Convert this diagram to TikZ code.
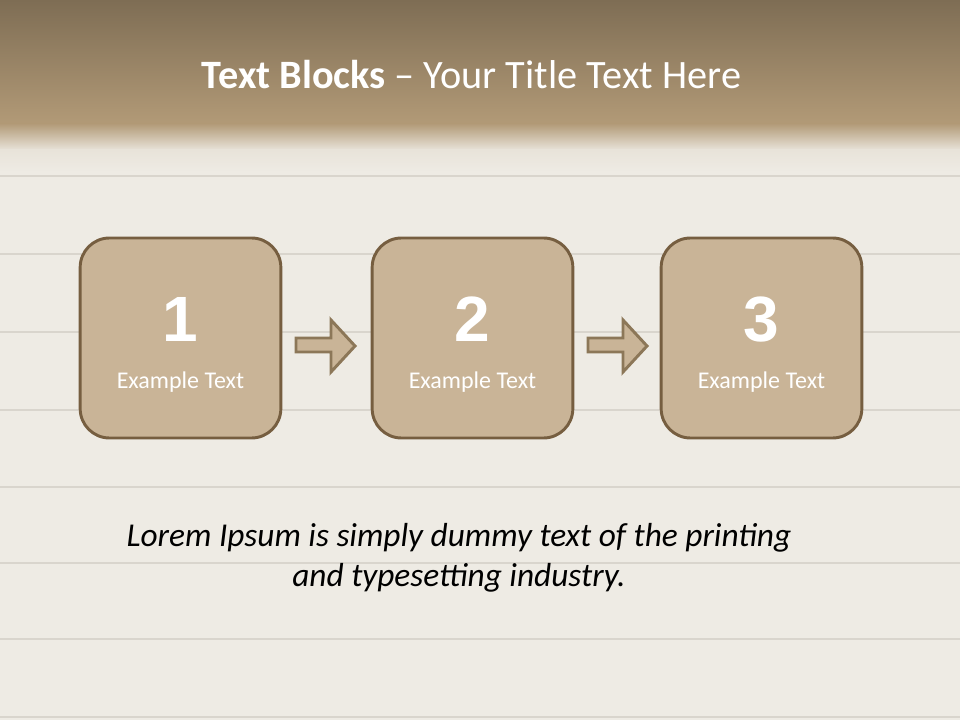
\documentclass[tikz,border=0pt]{standalone}
\usepackage{fontspec}
\setmainfont{Carlito}
\newfontfamily\numfont{Liberation Sans}
\definecolor{topdark}{HTML}{7E6D54}
\definecolor{topmid}{HTML}{B29A77}
\definecolor{wood}{HTML}{EEEBE4}
\definecolor{woodline}{HTML}{D9D5CD}
\definecolor{boxfill}{HTML}{C9B497}
\definecolor{boxedge}{HTML}{765E40}
\definecolor{arrowedge}{HTML}{8C7758}
\begin{document}
\begin{tikzpicture}[x=0.75pt,y=-0.75pt,
  stepbox/.style={draw=boxedge, line width=2.2pt, fill=boxfill, rounded corners=22pt,
    minimum width=150.5pt, minimum height=150pt, inner sep=0pt},
  numtext/.style={text=white, font=\numfont\bfseries\fontsize{48}{52}\selectfont},
  labtext/.style={text=white, font=\fontsize{18}{21}\selectfont},
  blockarrow/.style={fill=boxfill, draw=arrowedge, line width=2.2pt, line join=miter}]
\useasboundingbox (0,0) rectangle (960,720);
% background
\fill[wood] (0,0) rectangle (960,720);
\foreach \yy in {176,254,332,410,487,563,639,717}
  \draw[woodline, line width=1.6pt] (0,\yy) -- (960,\yy);
\shade[top color=topdark, bottom color=topmid] (0,0) rectangle (960,124);
\shade[top color=topmid, bottom color=wood!90!topmid] (0,123.5) rectangle (960,150);
\shade[top color=wood!90!topmid, bottom color=wood] (0,149.5) rectangle (960,172);
% title
\node[text=white, font=\fontsize{30.2}{34}\selectfont] (title) at (471.5,75)
  {\textbf{Text Blocks} -- Your Title Text Here};
% boxes
\node[stepbox] (b1) at (180.5,338) {};
\node[stepbox] (b2) at (472.5,338) {};
\node[stepbox] (b3) at (761.5,338) {};
\foreach \b/\n in {b1/1,b2/2,b3/3}{
  \node[numtext] (\b n) at ([yshift=14pt]\b.center) {\n};
  \node[labtext] (\b t) at ([yshift=-33pt]\b.center) {Example Text};
}
% block arrows
\draw[blockarrow] (296,338) -- (331,338) -- (331,320) -- (355,346) -- (331,372) -- (331,352) -- (296,352) -- cycle;
\draw[blockarrow] (588,338) -- (623,338) -- (623,320) -- (647,346) -- (623,372) -- (623,352) -- (588,352) -- cycle;
% bottom text
\node[align=center, font=\itshape\fontsize{25}{30}\selectfont, text=black] (lorem) at (459,558)
  {Lorem Ipsum is simply dummy text of the printing\\and typesetting industry.};
\end{tikzpicture}
\end{document}
